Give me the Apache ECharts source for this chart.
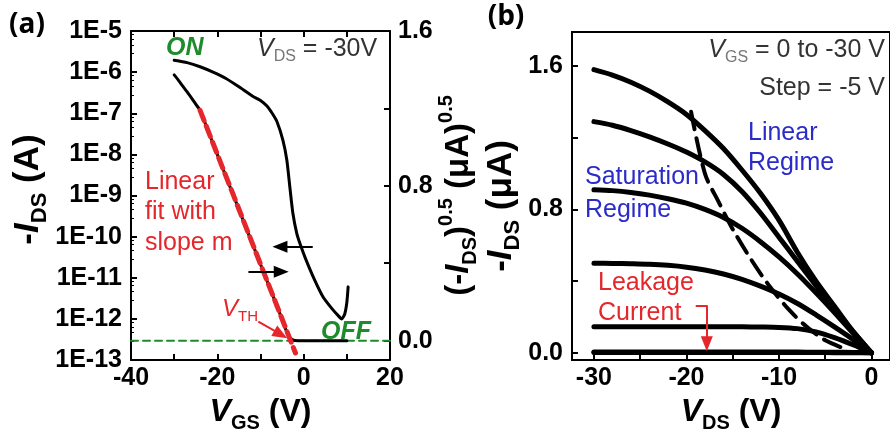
<!DOCTYPE html>
<html>
<head>
<meta charset="utf-8">
<title>Transfer and output curves</title>
<script src="https://cdn.jsdelivr.net/npm/echarts@6.0.0/dist/echarts.min.js"></script>
<style>
html, body { margin: 0; padding: 0; background: #fff; }
#chart { width: 890px; height: 443px; }
</style>
</head>
<body>
<div id="chart"></div>
<script>
// (a) transfer curve at V_DS = -30 V
// log branch, -I_DS in A (left axis)
var vgsLog = [-30, -27, -24, -21, -18, -15, -11.8, -10, -8.5, -7.3, -6.2, -4.8, -3.9, -3.2, -2.5, -1.6, -0.8, 0.5, 2.5, 4.5, 6.5, 8, 8.8, 9.5, 10, 10.3];
var idsLog = [1.95e-6, 1.7e-6, 1.35e-6, 1.0e-6, 7e-7, 4.4e-7, 2.6e-7, 2.05e-7, 1.5e-7, 1.0e-7, 6.3e-8, 2.2e-8, 7.3e-9, 1.6e-9, 3.7e-10, 1.2e-10, 6.5e-11, 2.8e-11, 9e-12, 3.4e-12, 1.8e-12, 1.2e-12, 1.0e-12, 1.3e-12, 2.5e-12, 6e-12];
// square-root branch, (-I_DS)^0.5 in uA^0.5 (right axis)
var vgsSqrt = [-30, -29, -28, -27, -26, -25, -24, -22, -20, -18, -16, -14, -12, -10, -8, -6, -5, -4.5, -4, -3.5, -3, -2.5, -2, 0, 5, 10];
var sqrtIds = [1.373, 1.345, 1.315, 1.285, 1.255, 1.222, 1.19, 1.075, 0.962, 0.848, 0.735, 0.621, 0.508, 0.395, 0.281, 0.168, 0.11, 0.078, 0.05, 0.027, 0.012, 0.004, 0.001, 0, 0, 0];
// linear fit and zero line
var fitVgs = [-24, -1.9];
var fitSqrt = [1.19, -0.064];
var zeroVgs = [-40, 20];
var zeroSqrt = [0, 0];
// annotation arrows (a)
var backArrowX = [2.1, -5.5], backArrowY = [0.485, 0.485];
var fwdArrowX = [-12.8, -5.2], fwdArrowY = [0.356, 0.356];
var vthArrowX = [-10.5, -5.3], vthArrowY = [0.098, 0.032];

// (b) output curves, V_GS = 0 to -30 V, step -5 V
var vdsOut = [-30, -28, -26, -24, -22, -20, -18, -16, -14, -12, -10, -8, -6, -4, -2, 0];
var idsVgs30 = [1.58, 1.55, 1.51, 1.46, 1.40, 1.33, 1.24, 1.14, 1.02, 0.89, 0.74, 0.56, 0.40, 0.26, 0.12, 0];
var idsVgs25 = [1.29, 1.27, 1.24, 1.205, 1.165, 1.12, 1.065, 0.995, 0.90, 0.78, 0.645, 0.51, 0.375, 0.245, 0.12, 0];
var idsVgs20 = [0.91, 0.905, 0.895, 0.88, 0.86, 0.835, 0.80, 0.755, 0.695, 0.62, 0.535, 0.44, 0.335, 0.225, 0.11, 0];
var idsVgs15 = [0.50, 0.499, 0.497, 0.494, 0.488, 0.478, 0.462, 0.44, 0.41, 0.372, 0.328, 0.275, 0.212, 0.145, 0.075, 0];
var idsVgs10 = [0.145, 0.145, 0.145, 0.145, 0.145, 0.145, 0.145, 0.145, 0.145, 0.144, 0.142, 0.135, 0.117, 0.085, 0.045, 0];
var idsVgs5 = [0.004, 0.004, 0.004, 0.004, 0.004, 0.004, 0.004, 0.004, 0.004, 0.004, 0.004, 0.004, 0.003, 0.003, 0.002, 0];
var idsVgs0 = [0.002, 0.002, 0.002, 0.002, 0.002, 0.002, 0.002, 0.002, 0.002, 0.002, 0.002, 0.002, 0.002, 0.001, 0.001, 0];
// saturation boundary
var satVds = [-19.5, -18, -16.5, -15, -13, -11, -9, -7, -5, -2.5];
var satIds = [1.345, 1.0, 0.84, 0.69, 0.52, 0.37, 0.245, 0.145, 0.07, 0.015];
// leakage arrow
var leakX = [-19.0, -17.8, -17.8], leakY = [0.265, 0.265, 0.05];

// tick labels
var ticksA = [0, 0.4, 0.8, 1.2, 1.6];
var labelsA = [0, 0.8, 1.6];
var ticksBx = [-30, -25, -20, -15, -10, -5, 0];
var labelsBx = [-30, -20, -10, 0];
var ticksBy = [0, 0.4, 0.8, 1.2, 1.6];
var labelsBy = [0, 0.8, 1.6];

var F = '"Liberation Sans", Arial, Helvetica, sans-serif';
var GREEN = '#1e8c2c', RED = '#e5262b', BLUE = '#2b2bc9', GREY = '#333333';

function pairs(xs, ys) {
	var out = [];
	for (var i = 0; i < xs.length; i++) out.push([xs[i], ys[i]]);
	return out;
}

function st(size, o) {
	o = o || {};
	var c = o.color || '#000';
	var s = {
		fontFamily: o.family || F, fontSize: size,
		fontWeight: o.weight || 'normal', fontStyle: o.italic ? 'italic' : 'normal',
		color: c, fill: c
	};
	if (o.padding) s.padding = o.padding;
	return s;
}

function titleRich(size) {
	var sub = Math.round(size * 0.62), off = Math.round(size * 0.72);
	return {
		n: st(size, {weight: 'bold'}),
		i: st(size, {weight: 'bold', italic: true}),
		s: st(sub, {weight: 'bold', padding: [off, 0, 0, 0]}),
		u: st(sub, {weight: 'bold', padding: [0, 0, off, 0]})
	};
}

var tickFont = {color: '#000', fontFamily: F, fontWeight: 'bold', fontSize: 25};
var axisLine = {show: true, onZero: false, lineStyle: {color: '#000', width: 2}};
var axisTick = {show: true, inside: true, length: 6, lineStyle: {color: '#000', width: 2}};

function label(x, y, text, base, rich, align) {
	var style = Object.assign({
		text: text, align: align || 'left', textAlign: align || 'left',
		verticalAlign: 'middle', textVerticalAlign: 'middle'
	}, base);
	if (rich) style.rich = rich;
	return {type: 'text', x: x, y: y, silent: true, z: 50, style: style};
}

function lineSeries(xi, yi, xs, ys, color, width, dash, smooth) {
	return {
		type: 'line', xAxisIndex: xi, yAxisIndex: yi, data: pairs(xs, ys),
		showSymbol: false, symbol: 'none', smooth: smooth || 0, silent: true,
		lineStyle: {color: color, width: width, type: dash || 'solid', cap: 'round', join: 'round'}
	};
}

function arrow(xs, ys, color) {
	var n = xs.length, items = [];
	for (var i = 0; i < n - 1; i++) {
		items.push([
			{coord: [xs[i], ys[i]], symbol: 'none'},
			{coord: [xs[i + 1], ys[i + 1]], symbol: i === n - 2 ? 'triangle' : 'none'}
		]);
	}
	return {
		type: 'line', xAxisIndex: 0, yAxisIndex: 1, data: [], silent: true,
		markLine: {
			silent: true, animation: false, symbolSize: [12, 15],
			label: {show: false}, emphasis: {disabled: true},
			lineStyle: {color: color, width: 2, type: 'solid'},
			data: items
		}
	};
}

var leak = arrow(leakX, leakY, RED);
leak.xAxisIndex = 2; leak.yAxisIndex = 2;

var vdsRich = {
	i: st(25, {italic: true, color: GREY}),
	s: st(16, {color: '#777', padding: [15, 0, 0, 0]}),
	n: st(25, {color: GREY})
};
var vthRich = {
	i: st(24, {italic: true, color: RED}),
	s: st(15, {color: RED, padding: [15, 0, 0, 0]})
};

var chart = echarts.init(document.getElementById('chart'), null, {renderer: 'canvas'});
chart.setOption({
	animation: false,
	backgroundColor: '#fff',
	grid: [
		{left: 131, top: 31, width: 259, height: 329},
		{left: 572, top: 32, width: 320, height: 328, show: true, borderColor: '#000', borderWidth: 2}
	],
	xAxis: [
		{
			type: 'value', gridIndex: 0, min: -40, max: 20, interval: 10,
			axisLine: axisLine, axisTick: axisTick, splitLine: {show: false},
			axisLabel: Object.assign({margin: 6, formatter: function (v) { return v % 20 === 0 ? String(v) : ''; }}, tickFont),
			name: '{i|V}{s|GS}{n| (V)}', nameLocation: 'middle', nameGap: 26,
			nameTextStyle: {rich: titleRich(32)}
		},
		{
			type: 'value', gridIndex: 0, position: 'top', min: -40, max: 20, interval: 10,
			axisLine: axisLine, axisTick: axisTick, splitLine: {show: false}, axisLabel: {show: false}
		},
		{
			type: 'value', gridIndex: 1, min: -32.37, max: 2,
			axisLine: axisLine, splitLine: {show: false},
			axisTick: Object.assign({customValues: ticksBx}, axisTick),
			axisLabel: Object.assign({margin: 6, customValues: labelsBx}, tickFont),
			name: '{i|V}{s|DS}{n| (V)}', nameLocation: 'middle', nameGap: 30,
			nameTextStyle: {rich: titleRich(32)}
		}
	],
	yAxis: [
		{
			type: 'log', logBase: 10, gridIndex: 0, min: 1e-13, max: 1e-5, splitNumber: 8,
			axisLine: axisLine, axisTick: axisTick, splitLine: {show: false},
			minorTick: {show: true, splitNumber: 5, length: 3, lineStyle: {color: '#000', width: 1}},
			axisLabel: Object.assign({margin: 9, formatter: function (v) { return '1E' + Math.round(Math.log10(v)); }}, tickFont),
			name: '{n|-}{i|I}{s|DS}{n| (A)}', nameLocation: 'middle', nameGap: 74,
			nameTextStyle: {rich: titleRich(35), padding: [0, 0, 0, 12]}
		},
		{
			type: 'value', gridIndex: 0, position: 'right', min: -0.1, max: 1.6,
			axisLine: axisLine, splitLine: {show: false},
			axisTick: Object.assign({customValues: ticksA}, axisTick),
			axisLabel: Object.assign({margin: 8, customValues: labelsA, formatter: function (v) { return v.toFixed(1); }}, tickFont),
			name: '{n|(-}{i|I}{s|DS}{n|)}{u|0.5}{n| (μA)}{u|0.5}', nameLocation: 'middle', nameGap: 44,
			nameTextStyle: {rich: titleRich(33)}
		},
		{
			type: 'value', gridIndex: 1, min: -0.04, max: 1.79,
			axisLine: axisLine, splitLine: {show: false},
			axisTick: Object.assign({customValues: ticksBy}, axisTick),
			axisLabel: Object.assign({margin: 9, customValues: labelsBy, formatter: function (v) { return v.toFixed(1); }}, tickFont),
			name: '{n|-}{i|I}{s|DS}{n| (μA)}', nameLocation: 'middle', nameGap: 45,
			nameTextStyle: {rich: titleRich(35), padding: [0, 20, 0, 0]}
		}
	],
	series: [
		lineSeries(0, 1, zeroVgs, zeroSqrt, GREEN, 2, [7, 5]),
		lineSeries(0, 0, vgsLog, idsLog, '#000', 3, 'solid', 0.2),
		lineSeries(0, 1, vgsSqrt, sqrtIds, '#000', 3, 'solid', 0.25),
		lineSeries(0, 1, fitVgs, fitSqrt, RED, 5, [11, 6]),
		arrow(backArrowX, backArrowY, '#000'),
		arrow(fwdArrowX, fwdArrowY, '#000'),
		arrow(vthArrowX, vthArrowY, RED),
		lineSeries(2, 2, vdsOut, idsVgs0, '#000', 5, 'solid', 0.3),
		lineSeries(2, 2, vdsOut, idsVgs5, '#000', 5, 'solid', 0.3),
		lineSeries(2, 2, vdsOut, idsVgs10, '#000', 5, 'solid', 0.3),
		lineSeries(2, 2, vdsOut, idsVgs15, '#000', 5, 'solid', 0.3),
		lineSeries(2, 2, vdsOut, idsVgs20, '#000', 5, 'solid', 0.3),
		lineSeries(2, 2, vdsOut, idsVgs25, '#000', 5, 'solid', 0.3),
		lineSeries(2, 2, vdsOut, idsVgs30, '#000', 5, 'solid', 0.3),
		lineSeries(2, 2, satVds, satIds, '#000', 4, [18, 9], 0.3),
		leak
	],
	graphic: [
		label(27, 25, '(a)', st(28, {weight: 'bold', family: '"Open Sans", "Noto Sans", sans-serif'}), null, 'center'),
		label(506, 17, '(b)', st(28, {weight: 'bold', family: '"Open Sans", "Noto Sans", sans-serif'}), null, 'center'),
		label(166, 48, 'ON', st(25, {weight: 'bold', italic: true, color: GREEN})),
		label(257, 49, '{i|V}{s|DS}{n| = -30V}', st(25, {color: GREY}), vdsRich),
		label(145, 182, 'Linear', st(25, {color: RED})),
		label(145, 212, 'fit with', st(25, {color: RED})),
		label(145, 243, 'slope m', st(25, {color: RED})),
		label(222, 309, '{i|V}{s|TH}', st(24, {color: RED}), vthRich),
		label(321, 332, 'OFF', st(25, {weight: 'bold', italic: true, color: GREEN})),
		label(885, 50, '{i|V}{s|GS}{n| = 0 to -30 V}', st(25, {color: GREY}), vdsRich, 'right'),
		label(885, 88, 'Step = -5 V', st(25, {color: GREY}), null, 'right'),
		label(748, 133, 'Linear', st(25, {color: BLUE})),
		label(748, 163, 'Regime', st(25, {color: BLUE})),
		label(585, 177, 'Saturation', st(25, {color: BLUE})),
		label(585, 210, 'Regime', st(25, {color: BLUE})),
		label(598, 283, 'Leakage', st(25, {color: RED})),
		label(598, 313, 'Current', st(25, {color: RED}))
	]
});
</script>
</body>
</html>
